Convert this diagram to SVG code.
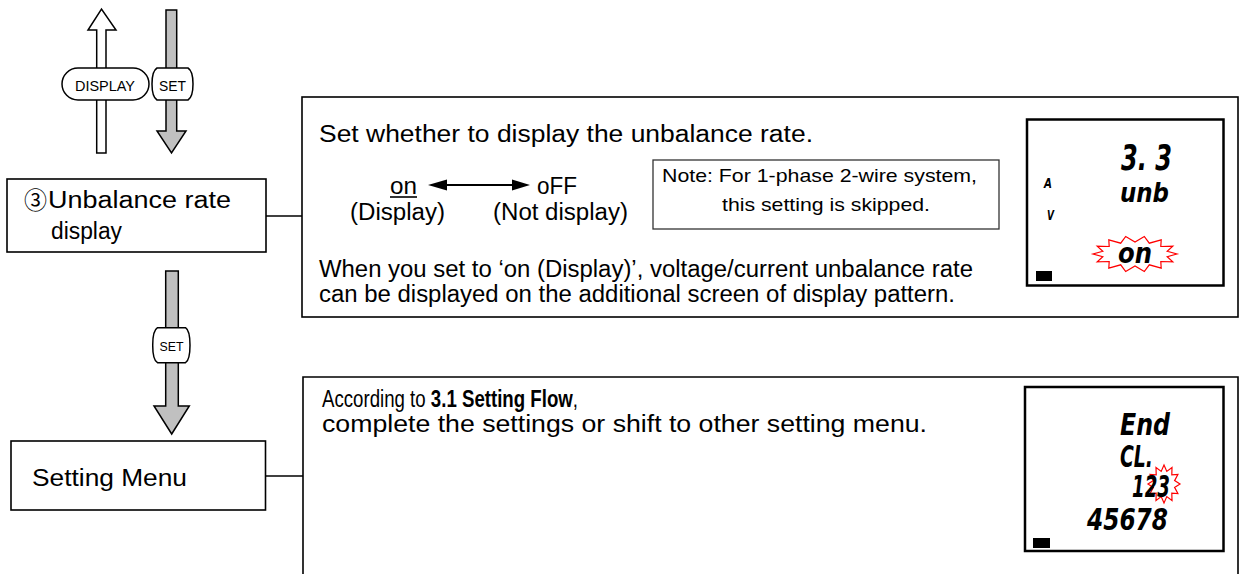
<svg xmlns="http://www.w3.org/2000/svg" width="1240" height="574" viewBox="0 0 1240 574">
<defs>
<style>
.t{font-family:"Liberation Sans",Arial,"Noto Sans CJK JP",sans-serif;fill:#000}
.m{font-size:23px}
.n{font-size:19px}
.b{font-weight:bold}
.btn{font-family:"Liberation Sans",Arial,sans-serif;font-size:14px;fill:#000;text-anchor:middle}
.box{fill:#fff;stroke:#000;stroke-width:1.6}
.open{fill:none;stroke:#000;stroke-width:1.6}
.lcd{fill:#fff;stroke:#000;stroke-width:2.5}
.seg{font-family:"DejaVu Sans",sans-serif;font-weight:bold;font-style:italic;fill:#000}
.star{fill:#fff;stroke:#f00;stroke-width:1.2}
.wa{fill:#fff;stroke:#000;stroke-width:1.5}
.ga{fill:#c0c0c0;stroke:#000;stroke-width:1.5}
.key{fill:#fff;stroke:#000;stroke-width:1.5}
.conn{stroke:#000;stroke-width:1.6;fill:none}
</style>
</defs>

<g id="keys-top">
<path class="wa" d="M96.7,153 V30 H88 L101.5,9 L116,30 H106 V153 Z"/>
<path class="ga" d="M166,10 H176.7 V131 H186 L171.5,153 L157,131 H166 Z"/>
<rect class="key" x="62" y="68" width="87" height="32" rx="16" ry="16"/>
<text class="btn" x="105" y="90.5" textLength="60" lengthAdjust="spacingAndGlyphs" style="font-size:15px">DISPLAY</text>
<path class="key" d="M157,68 H188 Q193,71 193,84 Q193,97 188,100 H157 Q152,97 152,84 Q152,71 157,68 Z"/>
<text class="btn" x="172.5" y="90.5" textLength="27" lengthAdjust="spacingAndGlyphs" style="font-size:15px">SET</text>
</g>

<g id="node-unbalance">
<rect class="box" x="7" y="179" width="259" height="73"/>
<text class="t" x="24" y="209" font-size="24" textLength="23" lengthAdjust="spacingAndGlyphs">③</text>
<text class="t m" x="48" y="208" textLength="183" lengthAdjust="spacingAndGlyphs">Unbalance rate</text>
<text class="t m" x="51" y="239" textLength="71" lengthAdjust="spacingAndGlyphs">display</text>
</g>

<g id="key-set-mid">
<path class="ga" d="M165.7,271 H178.3 V406 H189.3 L171.7,434 L154,406 H165.7 Z"/>
<path class="key" d="M157.5,327.7 H185.5 Q190,330.5 190,345.2 Q190,360 185.5,362.7 H157.5 Q152.7,360 152.7,345.2 Q152.7,330.5 157.5,327.7 Z"/>
<text class="btn" x="171.5" y="350.5" textLength="24" lengthAdjust="spacingAndGlyphs" style="font-size:13px">SET</text>
</g>

<g id="node-setting-menu">
<rect class="box" x="11" y="441" width="254.5" height="69"/>
<text class="t m" x="32" y="486" textLength="155" lengthAdjust="spacingAndGlyphs">Setting Menu</text>
</g>

<g id="connectors">
<line class="conn" x1="266" y1="216" x2="302" y2="216"/>
<line class="conn" x1="265.5" y1="476" x2="303" y2="476"/>
</g>

<g id="desc-unbalance">
<rect class="box" x="302" y="97" width="936" height="220"/>
<text class="t m" x="319" y="142" textLength="494" lengthAdjust="spacingAndGlyphs">Set whether to display the unbalance rate.</text>
<text class="t m" x="390" y="194" textLength="27" lengthAdjust="spacingAndGlyphs">on</text>
<line x1="390" y1="197" x2="417" y2="197" stroke="#000" stroke-width="1.6"/>
<line x1="445" y1="185" x2="514" y2="185" stroke="#000" stroke-width="1.8"/>
<polygon points="428,185 447,179.5 447,190.5" fill="#000"/>
<polygon points="530,185 512,179.5 512,190.5" fill="#000"/>
<text class="t m" x="537" y="194" textLength="40" lengthAdjust="spacingAndGlyphs">oFF</text>
<text class="t m" x="350" y="220" textLength="95" lengthAdjust="spacingAndGlyphs">(Display)</text>
<text class="t m" x="493" y="220" textLength="135" lengthAdjust="spacingAndGlyphs">(Not display)</text>
<rect x="653" y="160" width="346" height="69" fill="#fff" stroke="#333" stroke-width="1.3"/>
<text class="t n" x="662" y="182" textLength="315" lengthAdjust="spacingAndGlyphs">Note: For 1-phase 2-wire system,</text>
<text class="t n" x="722" y="211" textLength="208" lengthAdjust="spacingAndGlyphs">this setting is skipped.</text>
<text class="t m" x="319" y="277" textLength="654" lengthAdjust="spacingAndGlyphs">When you set to ‘on (Display)’, voltage/current unbalance rate</text>
<text class="t m" x="319" y="302" textLength="636" lengthAdjust="spacingAndGlyphs">can be displayed on the additional screen of display pattern.</text>
</g>

<g id="lcd-unbalance">
<rect class="lcd" x="1027" y="119.5" width="196.5" height="166"/>
<text class="seg" x="1121" y="170" font-size="36" textLength="51" lengthAdjust="spacingAndGlyphs">3. 3</text>
<text class="seg" x="1120" y="202" font-size="27" textLength="49" lengthAdjust="spacingAndGlyphs">unb</text>
<text class="seg" x="1044" y="188" font-size="14" textLength="8" lengthAdjust="spacingAndGlyphs">A</text>
<text class="seg" x="1047" y="220" font-size="14" textLength="7" lengthAdjust="spacingAndGlyphs">V</text>
<polygon class="star" points="1177,254 1167.2,256.7 1172.8,261.8 1160.8,261.5 1161.2,268.1 1149.3,264.8 1144.3,271.5 1135,266 1125.7,271.5 1120.7,264.8 1108.8,268.1 1109.2,261.5 1097.2,261.8 1102.8,256.7 1093,254 1102.8,251.3 1097.2,246.2 1109.2,246.5 1108.8,239.9 1120.7,243.2 1125.7,236.5 1135,242 1144.3,236.5 1149.3,243.2 1161.2,239.9 1160.8,246.5 1172.8,246.2 1167.2,251.3"/>
<text class="seg" x="1118" y="263" font-size="29" textLength="34" lengthAdjust="spacingAndGlyphs">on</text>
<rect x="1036" y="271" width="16" height="10" fill="#000"/>
</g>

<g id="desc-setting-menu">
<path class="open" d="M303,580 V377 H1238 V580"/>
<text class="t m" x="322" y="407" textLength="256" lengthAdjust="spacingAndGlyphs">According to <tspan class="b">3.1 Setting Flow</tspan>,</text>
<text class="t m" x="322" y="432" textLength="605" lengthAdjust="spacingAndGlyphs">complete the settings or shift to other setting menu.</text>
</g>

<g id="lcd-end">
<rect class="lcd" x="1025" y="387" width="198.5" height="164"/>
<text class="seg" x="1120" y="435" font-size="31" textLength="50" lengthAdjust="spacingAndGlyphs">End</text>
<text class="seg" x="1120" y="467" font-size="31" textLength="33" lengthAdjust="spacingAndGlyphs">CL.</text>
<polygon class="star" points="1180,484 1174.6,487.4 1177.9,493.5 1171.8,493.2 1172,500.5 1166.8,496.6 1164,503 1161.2,496.6 1156,500.5 1156.2,493.2 1150.1,493.5 1153.4,487.4 1148,484 1153.4,480.6 1150.1,474.5 1156.2,474.8 1156,467.5 1161.2,471.4 1164,465 1166.8,471.4 1172,467.5 1171.8,474.8 1177.9,474.5 1174.6,480.6"/>
<text class="seg" x="1132" y="497" font-size="31" textLength="38" lengthAdjust="spacingAndGlyphs">123</text>
<text class="seg" x="1087" y="530" font-size="31" textLength="81" lengthAdjust="spacingAndGlyphs">45678</text>
<rect x="1033" y="538" width="17" height="10" fill="#000"/>
</g>
</svg>
